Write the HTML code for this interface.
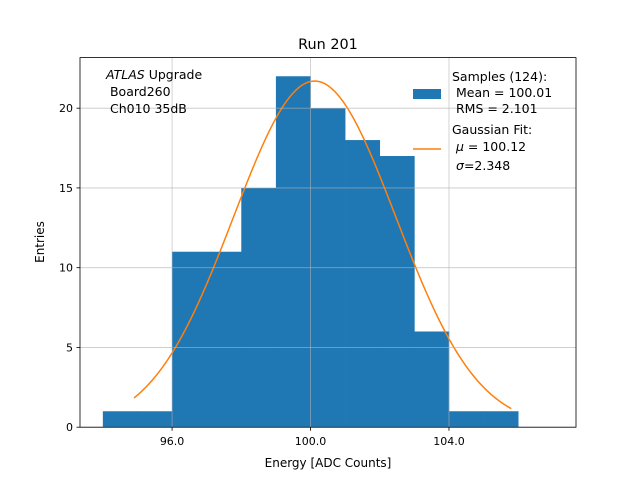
<!DOCTYPE html>
<html><head><meta charset="utf-8"><style>
body{margin:0;background:#fff;}
svg{font-family:"DejaVu Sans","Liberation Sans",sans-serif;}
text{white-space:pre;}
</style></head><body>
<svg id="chart" width="640" height="480" viewBox="0 0 640 480" xml:space="preserve">
<rect width="640" height="480" fill="#fff"/>
<g id="bars"></g>
<path id="fit" fill="none" stroke="#ff7f0e" stroke-width="1.5"/>
<g id="grid"></g>
<rect x="80" y="57.6" width="496" height="369.6" fill="none" stroke="#000" stroke-width="0.8"/>
<g id="ticks" font-size="11"></g>
<text x="328" y="49" font-size="14.4" text-anchor="middle">Run 201</text>
<text x="328" y="467" font-size="12" text-anchor="middle">Energy [ADC Counts]</text>
<text transform="translate(44,242) rotate(-90)" font-size="12" text-anchor="middle">Entries</text>
<g font-size="12.5">
<text x="106" y="79"><tspan font-style="italic">ATLAS</tspan> Upgrade</text>
<text x="106" y="96"> Board260</text>
<text x="106" y="113"> Ch010 35dB</text>
</g>
<g font-size="12.5">
<rect x="413" y="89" width="28" height="10" fill="#1f77b4"/>
<text x="452" y="81">Samples (124):</text>
<text x="452" y="97"> Mean = 100.01</text>
<text x="452" y="113"> RMS = 2.101</text>
<line x1="413" y1="149" x2="441" y2="149" stroke="#ff7f0e" stroke-width="1.5"/>
<text x="452" y="134">Gaussian Fit:</text>
<text x="452" y="151"> <tspan font-style="italic">μ</tspan> = 100.12</text>
<text x="456" y="170"><tspan font-style="italic">σ</tspan>=2.348</text>
</g>
</svg>
<script>
const binEdges=[94,95,96,97,98,99,100,101,102,103,104,105,106];
const counts=[1,1,11,11,15,22,20,18,17,6,1,1];
const xTicks=[96,100,104];
const xTickLabels=["96.0","100.0","104.0"];
const yTicks=[0,5,10,15,20];
const fitMu=100.12, fitSigma=2.348, fitAmp=21.7, fitRange=[94.9,105.8];
const L=80,R=576,T=57.6,B=427.2,xmin=93.34,xmax=107.67,ymin=0,ymax=23.17;
const X=v=>L+(v-xmin)/(xmax-xmin)*(R-L);
const Y=v=>B-(v-ymin)/(ymax-ymin)*(B-T);
const NS="http://www.w3.org/2000/svg";
const mk=(t,a)=>{const e=document.createElementNS(NS,t);for(const k in a)e.setAttribute(k,a[k]);return e;};
const bars=document.getElementById('bars');
counts.forEach((c,i)=>{const r=mk('rect',{x:X(binEdges[i]),y:Y(c),width:X(binEdges[i+1])-X(binEdges[i])+0.3,height:Y(0)-Y(c),fill:'#1f77b4'});


bars.appendChild(r);});
let d='';for(let i=0;i<=200;i++){const x=fitRange[0]+(fitRange[1]-fitRange[0])*i/200;const y=fitAmp*Math.exp(-0.5*((x-fitMu)/fitSigma)**2);d+=(i?'L':'M')+X(x).toFixed(2)+' '+Y(y).toFixed(2);}
document.getElementById('fit').setAttribute('d',d);
const grid=document.getElementById('grid'),ticks=document.getElementById('ticks');
xTicks.forEach((v,i)=>{const g=mk('line',{x1:X(v),x2:X(v),y1:T,y2:B,stroke:'#b0b0b0','stroke-width':0.8,'stroke-opacity':0.7});


grid.appendChild(g);
ticks.appendChild(mk('line',{x1:X(v),x2:X(v),y1:B,y2:B+3.5,stroke:'#000','stroke-width':0.8}));
const t=mk('text',{x:X(v),y:B+18,'text-anchor':'middle'});t.textContent=xTickLabels[i];


ticks.appendChild(t);});
yTicks.forEach(v=>{const g=mk('line',{x1:L,x2:R,y1:Y(v),y2:Y(v),stroke:'#b0b0b0','stroke-width':0.8,'stroke-opacity':0.7});


grid.appendChild(g);
ticks.appendChild(mk('line',{x1:L-3.5,x2:L,y1:Y(v),y2:Y(v),stroke:'#000','stroke-width':0.8}));
const t=mk('text',{x:L-7,y:Y(v)+4,'text-anchor':'end'});t.textContent=v;


ticks.appendChild(t);});
</script>
</body></html>
